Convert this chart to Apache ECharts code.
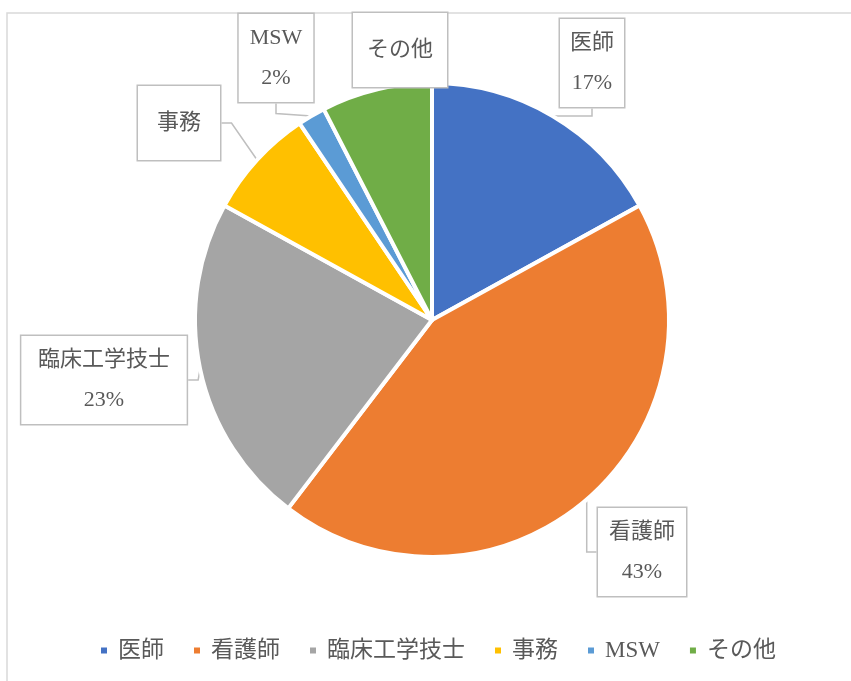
<!DOCTYPE html>
<html>
<head>
<meta charset="utf-8">
<script src="https://cdn.jsdelivr.net/npm/echarts@6/dist/echarts.min.js"></script>
<style>
  html, body { margin: 0; padding: 0; background: #fff; }
  #chart { width: 851px; height: 681px; }
</style>
</head>
<body>
<div id="chart"></div>
<script>
// 職種別の人数
var categories = ['医師', '看護師', '臨床工学技士', '事務', 'MSW', 'その他'];
var counts = [9, 23, 12, 4, 1, 4];
var showPercent = [true, true, true, false, true, false];
var colors = ['#4472C4', '#ED7D31', '#A5A5A5', '#FFC000', '#5B9BD5', '#70AD47'];

// callout box centres and paddings (layout only)
var boxPos = [[592, 63], [642, 552], [104, 380], [179, 123], [276, 58], [400, 50]];
var boxPad = [[4, 10], [4, 11], [4, 15], [17, 19], [4, 11], [17, 14]];

var font = "'Liberation Serif', 'Noto Sans CJK JP', serif";

var chart = echarts.init(document.getElementById('chart'));

var total = counts.reduce(function (a, b) { return a + b; }, 0);

var data = categories.map(function (name, i) {
    return {
        name: name,
        value: counts[i],
        label: { padding: boxPad[i] }
    };
});

var option = {
    animation: false,
    color: colors,
    graphic: [{
        type: 'rect',
        shape: { x: 7, y: 13, width: 880, height: 720 },
        style: { fill: 'none', stroke: '#D9D9D9', lineWidth: 1.5 },
        silent: true
    }],
    legend: {
        top: 634,
        left: 94,
        icon: 'rect',
        itemWidth: 8,
        itemHeight: 8,
        itemGap: 28,
        textStyle: { fontFamily: font, fontSize: 23, color: '#595959', padding: [0, 0, 0, 5] },
        data: categories
    },
    series: [{
        type: 'pie',
        center: [432, 320],
        radius: [0, 237],
        startAngle: 90,
        clockwise: true,
        data: data,
        itemStyle: { borderColor: '#fff', borderWidth: 4 },
        label: {
            show: true,
            position: 'outside',
            fontFamily: font,
            fontSize: 22,
            lineHeight: 40,
            color: '#595959',
            backgroundColor: '#fff',
            borderColor: '#BFBFBF',
            borderWidth: 1.5,
            formatter: function (p) {
                var pct = Math.round(p.value / total * 100) + '%';
                return showPercent[p.dataIndex] ? p.name + '\n' + pct : p.name;
            }
        },
        labelLine: {
            show: true,
            length: 10,
            length2: 10,
            lineStyle: { color: '#BFBFBF', width: 1.5 }
        },
        labelLayout: function (params) {
            var pos = boxPos[params.dataIndex];
            return {
                x: pos[0],
                y: pos[1],
                align: 'center',
                verticalAlign: 'middle'
            };
        }
    }]
};

chart.setOption(option);
</script>
</body>
</html>
